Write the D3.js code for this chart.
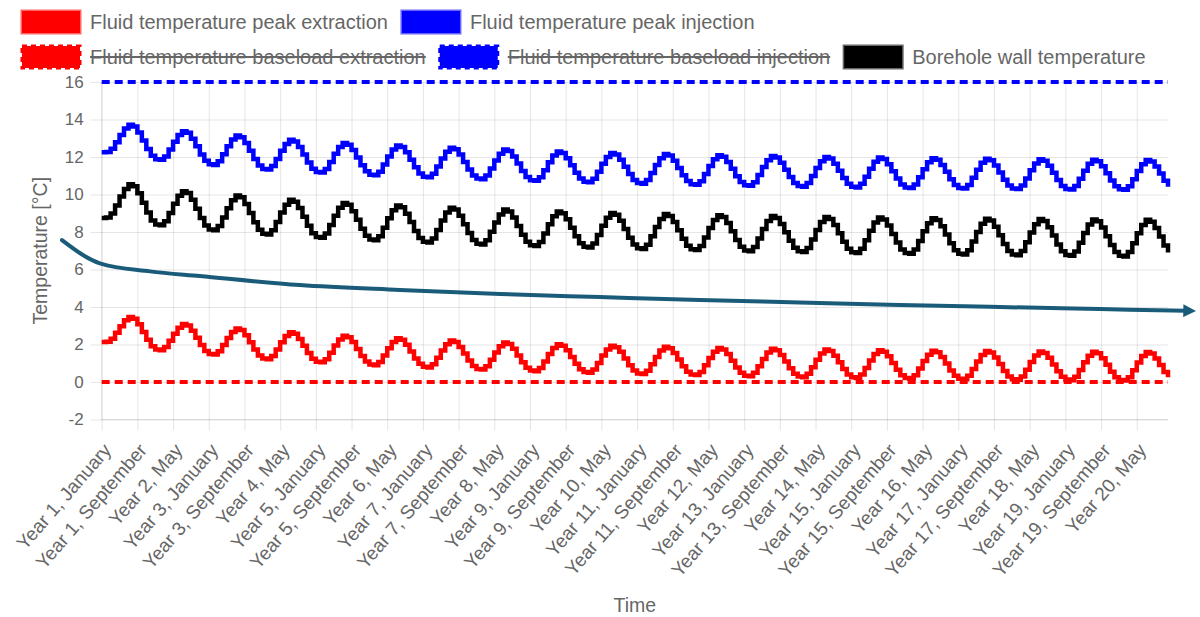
<!DOCTYPE html>
<html>
<head>
<meta charset="utf-8">
<script src="https://cdn.jsdelivr.net/npm/d3@7"></script>
<style>
  body { margin: 0; background: #fff; }
  svg { display: block; font-family: "Liberation Sans", Arial, Helvetica, sans-serif; }
</style>
</head>
<body>
<svg id="chart" width="1200" height="617"></svg>
<script>
// ---------------- DATA ----------------
const monthNames = ["January","February","March","April","May","June","July","August","September","October","November","December"];
const yearNumbers = [1,2,3,4,5,6,7,8,9,10,11,12,13,14,15,16,17,18,19,20];

const tickLabels = [
  "Year 1, January","Year 1, September","Year 2, May","Year 3, January","Year 3, September",
  "Year 4, May","Year 5, January","Year 5, September","Year 6, May","Year 7, January",
  "Year 7, September","Year 8, May","Year 9, January","Year 9, September","Year 10, May",
  "Year 11, January","Year 11, September","Year 12, May","Year 13, January","Year 13, September",
  "Year 14, May","Year 15, January","Year 15, September","Year 16, May","Year 17, January",
  "Year 17, September","Year 18, May","Year 19, January","Year 19, September","Year 20, May"
];

const yTicks = [-2,0,2,4,6,8,10,12,14,16];

// Fluid temperature peak injection (blue) [°C], monthly
const peakInjection = [
  12.25,12.27,12.44,12.79,13.18,13.52,13.72,13.63,13.31,12.88,12.43,12.07,
  11.88,11.85,12.03,12.40,12.81,13.17,13.38,13.29,12.98,12.57,12.14,11.80,
  11.61,11.58,11.77,12.15,12.57,12.93,13.15,13.06,12.75,12.33,11.89,11.55,
  11.36,11.33,11.52,11.90,12.33,12.70,12.92,12.83,12.54,12.13,11.71,11.38,
  11.20,11.17,11.36,11.74,12.17,12.53,12.75,12.66,12.37,11.98,11.56,11.24,
  11.06,11.03,11.22,11.60,12.03,12.40,12.62,12.54,12.25,11.86,11.45,11.12,
  10.95,10.92,11.11,11.49,11.92,12.28,12.50,12.42,12.13,11.74,11.34,11.02,
  10.85,10.82,11.01,11.39,11.82,12.18,12.40,12.32,12.03,11.65,11.25,10.93,
  10.76,10.73,10.92,11.30,11.72,12.08,12.30,12.22,11.94,11.56,11.16,10.85,
  10.68,10.65,10.84,11.22,11.64,12.00,12.22,12.14,11.86,11.48,11.09,10.78,
  10.61,10.58,10.77,11.15,11.58,11.94,12.16,12.08,11.80,11.42,11.03,10.72,
  10.55,10.52,10.71,11.09,11.52,11.88,12.10,12.02,11.74,11.37,10.98,10.67,
  10.50,10.47,10.66,11.04,11.47,11.83,12.05,11.97,11.69,11.32,10.93,10.62,
  10.45,10.42,10.61,10.99,11.42,11.78,12.00,11.92,11.64,11.27,10.88,10.57,
  10.41,10.38,10.57,10.95,11.38,11.75,11.97,11.89,11.61,11.24,10.85,10.54,
  10.38,10.35,10.54,10.92,11.35,11.72,11.94,11.86,11.58,11.21,10.82,10.51,
  10.35,10.32,10.51,10.89,11.32,11.69,11.91,11.83,11.55,11.18,10.79,10.48,
  10.32,10.29,10.48,10.86,11.29,11.66,11.88,11.80,11.53,11.16,10.77,10.46,
  10.30,10.27,10.46,10.84,11.27,11.64,11.86,11.78,11.51,11.14,10.75,10.44,
  10.28,10.25,10.44,10.82,11.25,11.62,11.84,11.76,11.49,11.12,10.73,10.42
];

// Borehole wall temperature (black) [°C], monthly
const boreholeWall = [
  8.75,8.78,8.99,9.42,9.90,10.30,10.55,10.44,10.07,9.56,9.04,8.62,
  8.40,8.36,8.58,9.02,9.51,9.93,10.18,10.08,9.72,9.24,8.75,8.35,
  8.14,8.10,8.32,8.77,9.27,9.69,9.95,9.85,9.49,9.01,8.52,8.12,
  7.91,7.87,8.09,8.54,9.04,9.46,9.72,9.62,9.28,8.81,8.33,7.94,
  7.74,7.70,7.92,8.37,8.87,9.29,9.55,9.45,9.11,8.65,8.18,7.80,
  7.60,7.56,7.78,8.23,8.73,9.16,9.42,9.32,8.98,8.53,8.05,7.68,
  7.48,7.44,7.66,8.11,8.61,9.04,9.30,9.20,8.87,8.42,7.95,7.58,
  7.38,7.34,7.56,8.01,8.51,8.94,9.20,9.10,8.77,8.32,7.85,7.48,
  7.29,7.25,7.47,7.92,8.42,8.84,9.10,9.00,8.68,8.23,7.77,7.40,
  7.21,7.17,7.39,7.84,8.34,8.76,9.02,8.92,8.60,8.16,7.70,7.33,
  7.14,7.10,7.32,7.77,8.27,8.70,8.96,8.86,8.54,8.10,7.64,7.27,
  7.08,7.04,7.26,7.71,8.21,8.64,8.90,8.80,8.48,8.04,7.58,7.21,
  7.02,6.98,7.20,7.65,8.16,8.59,8.85,8.75,8.43,7.99,7.53,7.16,
  6.97,6.93,7.15,7.60,8.11,8.54,8.80,8.70,8.38,7.94,7.48,7.11,
  6.92,6.88,7.11,7.56,8.07,8.51,8.77,8.67,8.35,7.90,7.44,7.07,
  6.88,6.84,7.07,7.52,8.04,8.47,8.74,8.64,8.31,7.87,7.40,7.03,
  6.84,6.80,7.03,7.49,8.00,8.44,8.71,8.61,8.28,7.83,7.36,6.99,
  6.80,6.76,6.99,7.46,7.98,8.42,8.69,8.59,8.26,7.81,7.34,6.97,
  6.77,6.73,6.96,7.43,7.95,8.40,8.67,8.57,8.24,7.78,7.31,6.94,
  6.74,6.70,6.93,7.40,7.93,8.38,8.65,8.55,8.21,7.76,7.28,6.91
];

// Fluid temperature peak extraction (red) [°C], monthly
const peakExtraction = [
  2.13,2.15,2.31,2.63,2.98,3.29,3.47,3.38,3.08,2.67,2.25,1.91,
  1.73,1.70,1.87,2.20,2.58,2.90,3.09,3.01,2.73,2.36,1.97,1.66,
  1.50,1.47,1.64,1.97,2.35,2.67,2.86,2.78,2.50,2.12,1.73,1.42,
  1.25,1.22,1.39,1.74,2.12,2.45,2.65,2.57,2.30,1.93,1.55,1.24,
  1.08,1.05,1.22,1.56,1.95,2.27,2.47,2.39,2.13,1.76,1.39,1.09,
  0.93,0.90,1.07,1.41,1.80,2.13,2.33,2.25,1.99,1.63,1.26,0.97,
  0.81,0.78,0.95,1.29,1.68,2.01,2.21,2.13,1.87,1.52,1.15,0.86,
  0.70,0.67,0.84,1.19,1.58,1.91,2.11,2.03,1.77,1.42,1.05,0.76,
  0.61,0.58,0.75,1.10,1.49,1.82,2.02,1.94,1.69,1.34,0.97,0.68,
  0.53,0.50,0.67,1.02,1.41,1.74,1.94,1.86,1.61,1.26,0.90,0.61,
  0.46,0.43,0.60,0.95,1.34,1.68,1.88,1.80,1.55,1.20,0.84,0.55,
  0.40,0.37,0.54,0.89,1.28,1.62,1.82,1.74,1.49,1.14,0.78,0.49,
  0.34,0.31,0.49,0.84,1.23,1.57,1.77,1.69,1.44,1.09,0.73,0.44,
  0.29,0.26,0.44,0.79,1.19,1.52,1.73,1.65,1.40,1.05,0.69,0.40,
  0.25,0.22,0.40,0.75,1.15,1.49,1.70,1.62,1.37,1.02,0.65,0.36,
  0.21,0.18,0.36,0.72,1.12,1.46,1.67,1.59,1.34,0.99,0.62,0.33,
  0.18,0.15,0.33,0.69,1.10,1.44,1.65,1.57,1.31,0.96,0.59,0.30,
  0.15,0.12,0.30,0.66,1.07,1.42,1.63,1.55,1.29,0.94,0.57,0.28,
  0.13,0.10,0.28,0.64,1.05,1.40,1.61,1.53,1.27,0.92,0.55,0.26,
  0.11,0.08,0.26,0.63,1.04,1.39,1.60,1.52,1.26,0.91,0.54,0.25
];

// Limit lines (dashed)
const minFluidTemperature = [0];
const maxFluidTemperature = [16];

// Annotation: hand-drawn trend arrow, [month index, °C]
const trendArrow = [
  [-8.9,7.57],[-0.4,6.33],[10.8,5.90],[22.0,5.65],[44.4,5.17],[66.8,4.91],
  [89.3,4.69],[111.7,4.53],[134.1,4.37],[156.5,4.24],[178.9,4.11],[201.3,4.00],
  [223.7,3.89],[243.0,3.80]
];

const legendItems = [
  {label:"Fluid temperature peak extraction", color:"#ff0000", dashed:false, hidden:false, row:0},
  {label:"Fluid temperature peak injection", color:"#0000ff", dashed:false, hidden:false, row:0},
  {label:"Fluid temperature baseload extraction", color:"#ff0000", dashed:true, hidden:true, row:1},
  {label:"Fluid temperature baseload injection", color:"#0000ff", dashed:true, hidden:true, row:1},
  {label:"Borehole wall temperature", color:"#000000", dashed:false, hidden:false, row:1}
];

// ---------------- CHART ----------------
const categories = [];
yearNumbers.forEach(yr => monthNames.forEach(m => categories.push("Year " + yr + ", " + m)));

const svg = d3.select("#chart");
const textColor = "#666";
const gridColor = "rgba(0,0,0,0.1)";

const plot = {left: 101.7, right: 1168, top: 82, bottom: 419.5};
const x = d3.scaleLinear().domain([0, categories.length - 1]).range([plot.left, plot.right]);
const y = d3.scaleLinear().domain([-2, 16]).range([plot.bottom, plot.top]);
const tickLen = 11;

// Horizontal grid + y tick labels
const yAxis = d3.axisLeft(y).tickValues(yTicks).tickSize(-(plot.right - plot.left + tickLen)).tickPadding(7).tickFormat(d => String(d));
const gy = svg.append("g").attr("transform", `translate(${plot.left - tickLen},0)`).call(yAxis);
gy.select(".domain").remove();
gy.selectAll(".tick line").attr("stroke", gridColor).attr("stroke-width", 1);
gy.selectAll(".tick text").attr("fill", textColor).attr("font-size", 17)
  .attr("font-family", "'Liberation Sans', Arial, sans-serif");

// Vertical grid + x tick labels
const tickIdx = tickLabels.map(l => categories.indexOf(l));
const xAxis = d3.axisBottom(x).tickValues(tickIdx).tickSize(-(plot.bottom - plot.top + tickLen)).tickFormat("");
const gx = svg.append("g").attr("transform", `translate(0,${plot.bottom + tickLen})`).call(xAxis);
gx.select(".domain").remove();
gx.selectAll(".tick line").attr("stroke", gridColor).attr("stroke-width", 1);
gx.selectAll(".tick").append("text")
  .attr("fill", textColor)
  .attr("font-size", 19)
  .attr("font-family", "'Liberation Sans', Arial, sans-serif")
  .attr("text-anchor", "end")
  .attr("dy", "0.35em")
  .attr("transform", "translate(5,16) rotate(-49)")
  .text(d => categories[d]);

// axis borders
svg.append("line").attr("x1", plot.left).attr("x2", plot.right).attr("y1", y(-2)).attr("y2", y(-2))
  .attr("stroke", gridColor).attr("stroke-width", 1);
svg.append("line").attr("x1", plot.left).attr("x2", plot.left).attr("y1", plot.top).attr("y2", plot.bottom)
  .attr("stroke", gridColor).attr("stroke-width", 1);

// Axis titles
svg.append("text").attr("x", (plot.left + plot.right) / 2).attr("y", 605).attr("dy", "0.35em")
  .attr("text-anchor", "middle").attr("fill", textColor).attr("font-size", 19.5).text("Time");
svg.append("text").attr("transform", `translate(40,${(plot.top + plot.bottom) / 2}) rotate(-90)`).attr("dy", "0.35em")
  .attr("text-anchor", "middle").attr("fill", textColor).attr("font-size", 19.5).text("Temperature [°C]");

// Limit lines
const lastIdx = categories.length - 1;
function limitLine(vals, color) {
  svg.append("line").attr("x1", x(0)).attr("x2", x(lastIdx)).attr("y1", y(vals[0])).attr("y2", y(vals[0]))
    .attr("stroke", color).attr("stroke-width", 4).attr("stroke-dasharray", "8,5");
}
limitLine(minFluidTemperature, "#ff0000");
limitLine(maxFluidTemperature, "#0000ff");

// Series
const line = d3.line().x((d, i) => x(i)).y(d => y(d)).curve(d3.curveStepAfter);
[[boreholeWall, "#000000"], [peakInjection, "#0000ff"], [peakExtraction, "#ff0000"]].forEach(([data, color]) => {
  svg.append("path").datum(data).attr("d", line).attr("fill", "none")
    .attr("stroke", color).attr("stroke-width", 4.5).attr("stroke-linejoin", "miter");
});

// Trend arrow annotation
const arrowColor = "#1b5b7a";
svg.append("defs").append("marker").attr("id", "arrowhead")
  .attr("viewBox", "0 0 10 10").attr("refX", 2).attr("refY", 5)
  .attr("markerWidth", 3.2).attr("markerHeight", 3.2).attr("orient", "auto")
  .attr("markerUnits", "strokeWidth")
  .append("path").attr("d", "M0,0 L10,5 L0,10 Z").attr("fill", arrowColor);
const arrowLine = d3.line().x(d => x(d[0])).y(d => y(d[1])).curve(d3.curveMonotoneX);
svg.append("path").datum(trendArrow).attr("d", arrowLine).attr("fill", "none")
  .attr("stroke", arrowColor).attr("stroke-width", 4).attr("stroke-linecap", "round")
  .attr("marker-end", "url(#arrowhead)");

// Legend
const legend = svg.append("g");
const boxW = 58, boxH = 22, legendFont = 20;
const rowY = [22, 57];
const rowX = [22, 22];
legendItems.forEach(it => {
  const g = legend.append("g");
  const bx = rowX[it.row], cy = rowY[it.row];
  g.append("rect").attr("x", bx).attr("y", cy - boxH / 2).attr("width", boxW).attr("height", boxH)
    .attr("fill", it.color).attr("stroke", it.color).attr("stroke-width", 3)
    .attr("stroke-dasharray", it.dashed ? "5,4" : null)
    .attr("stroke-opacity", it.dashed ? 1 : 0.6);
  const t = g.append("text").attr("x", bx + boxW + 10).attr("y", cy).attr("dy", "0.35em")
    .attr("fill", textColor).attr("font-size", legendFont).text(it.label);
  const tw = t.node().getComputedTextLength();
  if (it.hidden) {
    g.append("line").attr("x1", bx + boxW + 10).attr("x2", bx + boxW + 10 + tw)
      .attr("y1", cy).attr("y2", cy).attr("stroke", textColor).attr("stroke-width", 2);
  }
  rowX[it.row] = bx + boxW + 10 + tw + 14;
});
</script>
</body>
</html>
